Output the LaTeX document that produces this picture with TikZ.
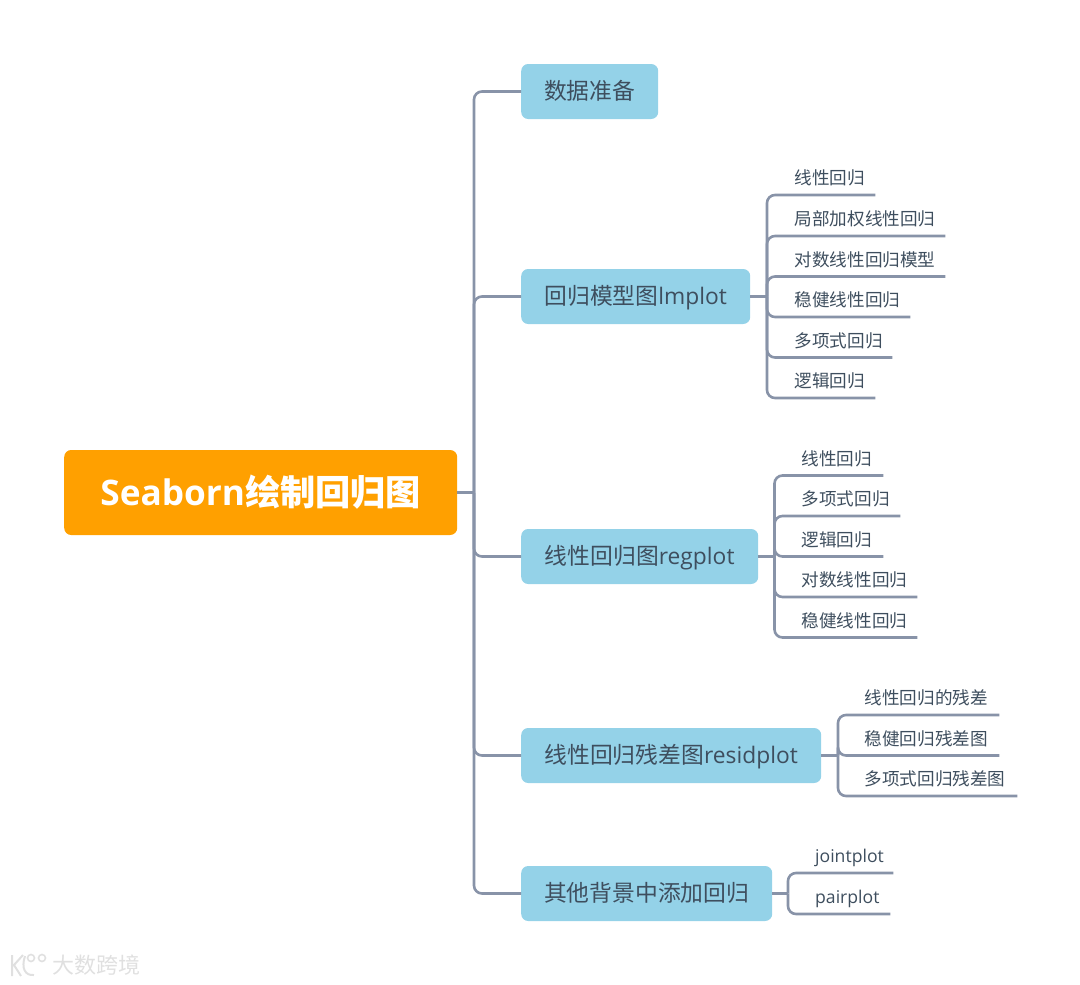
\documentclass[tikz,border=0pt]{standalone}
\usepackage{fontspec}
\setmainfont{Open Sans}
\newfontfamily\cjk{Noto Sans CJK SC}
\usetikzlibrary{positioning}
\definecolor{rootorange}{RGB}{255,160,0}
\definecolor{boxblue}{RGB}{148,210,232}
\definecolor{ink}{RGB}{62,78,94}
\definecolor{linkgray}{RGB}{136,147,168}
\definecolor{markgray}{RGB}{224,224,224}
\tikzset{
  rootbox/.style={fill=rootorange,rounded corners=7pt,text=white,anchor=west,inner sep=0pt,
    minimum width=393pt,minimum height=85pt,font=\fontsize{35.2}{40}\selectfont\bfseries},
  topic/.style={fill=boxblue,rounded corners=7pt,text=ink,anchor=west,inner sep=0pt,
    minimum width=#1,minimum height=55pt,text height=19pt,text depth=4pt,
    font=\fontsize{22.8}{26}\selectfont},
  leaf/.style={anchor=south west,inner sep=0pt,text=ink,text width=#1,align=left,
    text height=16pt,text depth=10pt,font=\fontsize{17.6}{20}\selectfont},
  link/.style={draw=linkgray,line width=2.6pt,rounded corners=8pt},
}
\begin{document}
\begin{tikzpicture}[x=1pt,y=-1pt]
  \useasboundingbox (0,0) rectangle (1080,985);
  % main branches
  \node[rootbox] (root) at (64,492.5) {Seaborn{\cjk 绘制回归图}};
  \node[topic=137pt] (prep) at (521,91.5) {\cjk 数据准备};
  \node[topic=229pt] (lm) at (521,296.5) {{\cjk 回归模型图}lmplot};
  \node[topic=237pt] (reg) at (521,556.5) {{\cjk 线性回归图}regplot};
  \node[topic=300pt] (resid) at (521,755.5) {{\cjk 线性回归残差图}residplot};
  \node[topic=251pt] (other) at (521,893.5) {\cjk 其他背景中添加回归};
  \coordinate (trunk) at (474,492.5);
  % lmplot
  \coordinate (lmbus) at (767,296.5);
  \node[leaf=80.5pt] (lma) at (794.5,195) {\cjk 线性回归};
  \node[leaf=150.5pt] (lmb) at (794.5,236) {\cjk 局部加权线性回归};
  \node[leaf=150.5pt] (lmc) at (794.5,276.5) {\cjk 对数线性回归模型};
  \node[leaf=115.5pt] (lmd) at (794.5,317) {\cjk 稳健线性回归};
  \node[leaf=97.5pt] (lme) at (794.5,357.5) {\cjk 多项式回归};
  \node[leaf=80.5pt] (lmf) at (794.5,398) {\cjk 逻辑回归};
  % regplot
  \coordinate (regbus) at (774.5,556.5);
  \node[leaf=81.5pt] (rega) at (801.5,475.5) {\cjk 线性回归};
  \node[leaf=98.5pt] (regb) at (801.5,516) {\cjk 多项式回归};
  \node[leaf=81.5pt] (regc) at (801.5,556.5) {\cjk 逻辑回归};
  \node[leaf=115.5pt] (regd) at (801.5,597) {\cjk 对数线性回归};
  \node[leaf=115.5pt] (rege) at (801.5,637.5) {\cjk 稳健线性回归};
  % residplot
  \coordinate (residbus) at (838,755.5);
  \node[leaf=134.5pt] (resa) at (864.5,715) {\cjk 线性回归的残差};
  \node[leaf=134.5pt] (resb) at (864.5,755.5) {\cjk 稳健回归残差图};
  \node[leaf=152.5pt] (resc) at (864.5,796) {\cjk 多项式回归残差图};
  % other
  \coordinate (otherbus) at (788,893.5);
  \node[leaf=78pt] (ota) at (815,873) {jointplot};
  \node[leaf=75pt] (otb) at (815,914) {pairplot};
  \draw[link] (root.east) -- (trunk);
  \foreach \n in {prep,lm,reg,resid,other} \draw[link] (trunk) |- (\n.west);
  \draw[link] (lm.east) -- (lmbus);
  \foreach \n in {lma,lmb,lmc,lmd,lme,lmf} \draw[link] (lmbus) |- (\n.south east);
  \draw[link] (reg.east) -- (regbus);
  \foreach \n in {rega,regb,regc,regd,rege} \draw[link] (regbus) |- (\n.south east);
  \draw[link] (resid.east) -- (residbus);
  \foreach \n in {resa,resb,resc} \draw[link] (residbus) |- (\n.south east);
  \draw[link] (other.east) -- (otherbus);
  \foreach \n in {ota,otb} \draw[link] (otherbus) |- (\n.south east);
  % watermark
  \node[text=markgray,anchor=west,inner sep=0pt,font=\fontsize{22}{24}\selectfont] (mark) at (52,965) {\cjk 大数跨境};
  \draw[markgray,line width=2pt] (12,955) -- (12,976) (23,955) -- (14,965) -- (21,976);
  \draw[markgray,line width=2pt] (25,956) .. controls (21,968) and (25,976) .. (34,975);
  \draw[markgray,line width=1.6pt] (31,958) circle (3.5) (42,958) circle (3.5);
\end{tikzpicture}
\end{document}
